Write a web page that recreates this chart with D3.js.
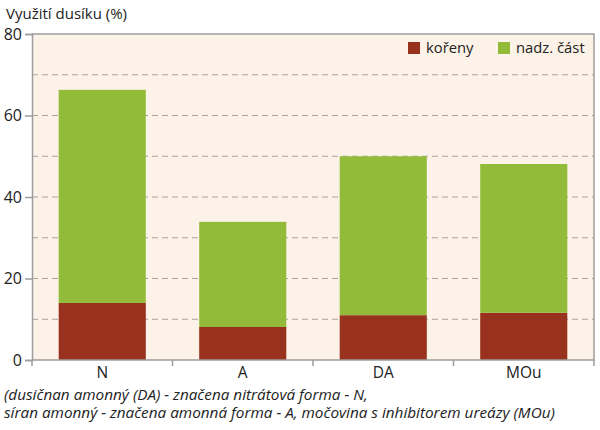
<!DOCTYPE html>
<html>
<head>
<meta charset="utf-8">
<script src="https://cdn.jsdelivr.net/npm/d3@7"></script>
<style>
  body { margin: 0; background: #fff; }
  svg text { font-family: "Open Sans", "Noto Sans", sans-serif; fill: #222; }
</style>
</head>
<body>
<div id="chart"></div>
<script>
var categories = ['N', 'A', 'DA', 'MOu'];
var koreny = [14, 8.1, 11, 11.6];
var nadzCast = [52.3, 25.8, 39, 36.5];
var yTicks = [0, 20, 40, 60, 80];
var gridVals = [10, 20, 30, 40, 50, 60, 70];
var seriesNames = ['kořeny', 'nadz. část'];
var colors = ['#98321e', '#92bb3a'];

var W = 600, H = 430;
var m = {left: 32, right: 6, top: 34, bottom: 70};
var svg = d3.select('#chart').append('svg').attr('width', W).attr('height', H);

var x = d3.scaleBand().domain(categories).range([m.left, W - m.right]).paddingInner(0.38).paddingOuter(0.19);
var y = d3.scaleLinear().domain([0, 80]).range([H - m.bottom, m.top]);

// plot background
svg.append('rect')
  .attr('x', m.left).attr('y', m.top)
  .attr('width', W - m.right - m.left).attr('height', H - m.bottom - m.top)
  .attr('fill', '#fcf2e7');

// dashed grid
svg.selectAll('.grid').data(gridVals).enter().append('line')
  .attr('x1', m.left).attr('x2', W - m.right)
  .attr('y1', function(d) { return y(d); }).attr('y2', function(d) { return y(d); })
  .attr('stroke', '#a9a39c').attr('stroke-width', 1).attr('stroke-dasharray', '6,4');

// stacked bars
var stackData = categories.map(function(c, i) { return {cat: c, k: koreny[i], n: nadzCast[i]}; });
var stacked = d3.stack().keys(['k', 'n'])(stackData);
svg.selectAll('.series').data(stacked).enter().append('g')
  .attr('fill', function(d, i) { return colors[i]; })
  .selectAll('rect').data(function(d) { return d; }).enter().append('rect')
  .attr('x', function(d) { return x(d.data.cat); })
  .attr('width', x.bandwidth())
  .attr('y', function(d) { return y(d[1]); })
  .attr('height', function(d) { return y(d[0]) - y(d[1]); });

// frame top and right
svg.append('path')
  .attr('d', 'M' + m.left + ',' + m.top + 'H' + (W - m.right) + 'V' + (H - m.bottom))
  .attr('fill', 'none').attr('stroke', '#9d9d9d').attr('stroke-width', 1.5);

// y axis
var yAxis = svg.append('g').attr('transform', 'translate(' + m.left + ',0)')
  .call(d3.axisLeft(y).tickValues(yTicks).tickSize(7).tickPadding(3));
yAxis.select('.domain').attr('stroke', '#9d9d9d').attr('stroke-width', 1.5);
yAxis.selectAll('.tick line').attr('stroke', '#9d9d9d').attr('stroke-width', 1.5);
yAxis.selectAll('text').style('font-size', '16px').attr('fill', '#222');

// x axis
var bounds = categories.map(function(c) { return x(c) - x.step() * x.paddingInner() / 2; });
bounds.push(W - m.right);
var xg = svg.append('g');
xg.append('line')
  .attr('x1', m.left).attr('x2', W - m.right)
  .attr('y1', H - m.bottom).attr('y2', H - m.bottom)
  .attr('stroke', '#9d9d9d').attr('stroke-width', 1.5);
xg.selectAll('.xt').data(bounds).enter().append('line')
  .attr('x1', function(d) { return d; }).attr('x2', function(d) { return d; })
  .attr('y1', H - m.bottom).attr('y2', H - m.bottom + 6)
  .attr('stroke', '#9d9d9d').attr('stroke-width', 1.5);
xg.selectAll('.xl').data(categories).enter().append('text')
  .attr('x', function(d) { return x(d) + x.bandwidth() / 2; })
  .attr('y', H - m.bottom + 18)
  .attr('text-anchor', 'middle')
  .style('font-size', '15.5px')
  .text(function(d) { return d; });

// title
svg.append('text').attr('x', 6).attr('y', 19).style('font-size', '15px').text('Využití dusíku (%)');

// legend
var lg = svg.append('g');
var legX = [408, 498];
seriesNames.forEach(function(s, i) {
  lg.append('rect').attr('x', legX[i]).attr('y', 42).attr('width', 12).attr('height', 12).attr('fill', colors[i]);
  lg.append('text').attr('x', legX[i] + 18).attr('y', 53).style('font-size', '14.8px').text(s);
});

// footnote
var notes = ['(dusičnan amonný (DA) - značena nitrátová forma - N,',
             'síran amonný - značena amonná forma - A, močovina s inhibitorem ureázy (MOu)'];
svg.selectAll('.note').data(notes).enter().append('text')
  .attr('x', 4).attr('y', function(d, i) { return 399.5 + i * 18.5; })
  .style('font-size', '15.3px').style('font-style', 'italic')
  .text(function(d) { return d; });
</script>
</body>
</html>
